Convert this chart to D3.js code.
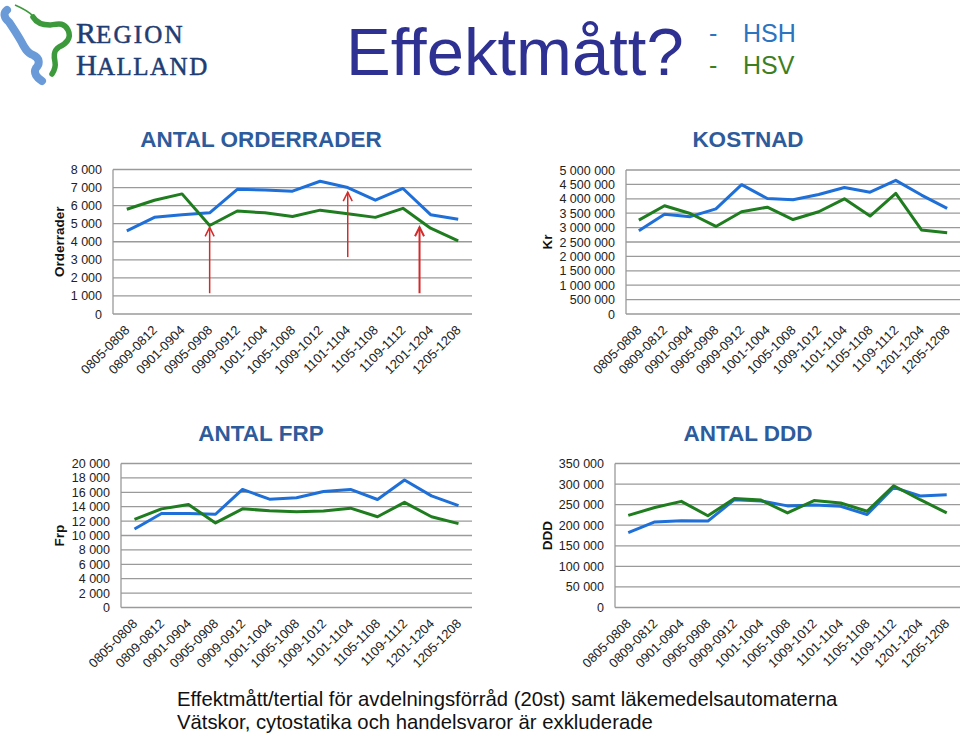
<!DOCTYPE html>
<html><head><meta charset="utf-8">
<script src="https://cdn.jsdelivr.net/npm/d3@7"></script>
<style>
body{margin:0;background:#fff;}
svg{display:block;font-family:Arial,"Liberation Sans",sans-serif;}
</style></head>
<body><svg id="c" width="960" height="734"></svg>
<script>
const categories = ["0805-0808","0809-0812","0901-0904","0905-0908","0909-0912","1001-1004","1005-1008","1009-1012","1101-1104","1105-1108","1109-1112","1201-1204","1205-1208"];
const seriesNames = ["HSH","HSV"];

const orderHSH = [4600,5350,5500,5600,6900,6870,6800,7350,7000,6300,6950,5500,5250];
const orderHSV = [5800,6300,6650,4900,5700,5600,5400,5750,5550,5350,5850,4750,4050];
const orderTicks = [0,1000,2000,3000,4000,5000,6000,7000,8000];

const kostHSH = [2890000,3460000,3380000,3650000,4490000,4010000,3970000,4150000,4390000,4230000,4640000,4130000,3670000];
const kostHSV = [3260000,3760000,3490000,3040000,3550000,3710000,3280000,3550000,4000000,3400000,4190000,2920000,2820000];
const kostTicks = [0,500000,1000000,1500000,2000000,2500000,3000000,3500000,4000000,4500000,5000000];

const frpHSH = [10900,13050,13050,12950,16400,15050,15250,16100,16400,15000,17700,15500,14150];
const frpHSV = [12250,13700,14300,11750,13700,13450,13300,13400,13800,12600,14600,12600,11650];
const frpTicks = [0,2000,4000,6000,8000,10000,12000,14000,16000,18000,20000];

const dddHSH = [182000,208000,211000,210000,262000,259000,247000,249000,246000,226000,292000,271000,274000];
const dddHSV = [224000,243000,258000,223000,265000,261000,230000,260000,254000,234000,296000,262000,230000];
const dddTicks = [0,50000,100000,150000,200000,250000,300000,350000];

// arrows on the order chart: category position (index), from value, to value
const arrowPos = [3, 8, 10.6];
const arrowFrom = [1150, 3150, 1150];
const arrowTo = [4800, 6750, 4800];

const svg = d3.select("#c");
const BLUE = "#1f6fd8", GREEN = "#1f7d1f", GRID = "#9a9a9a";
const fmt = v => d3.format(",")(v).replace(/,/g, " ");

function chart(cfg){
  const {x0,x1,yTop,yBot,max,ticks,s1,s2,title,titleX,titleY,ylab,ylabX} = cfg;
  const g = svg.append("g");
  const x = d3.scalePoint().domain(categories).range([x0,x1]).padding(0.5);
  const y = d3.scaleLinear().domain([0,max]).range([yBot,yTop]);
  g.selectAll(".grid").data(ticks).enter().append("line")
    .attr("x1",x0).attr("x2",x1).attr("y1",d=>y(d)).attr("y2",d=>y(d))
    .attr("stroke",GRID).attr("stroke-width",1.3);
  g.append("line").attr("x1",x0).attr("x2",x0).attr("y1",yTop).attr("y2",yBot)
    .attr("stroke",GRID).attr("stroke-width",1.3);
  const yAxis = d3.axisLeft(y).tickValues(ticks).tickFormat(fmt).tickSize(0).tickPadding(11);
  const ya = g.append("g").attr("transform",`translate(${x0},0)`).call(yAxis);
  ya.select(".domain").remove();
  ya.selectAll("text").attr("font-size","12.5px").attr("fill","#222").attr("font-family","Arial,'Liberation Sans',sans-serif");
  const xAxis = d3.axisBottom(x).tickSize(0).tickPadding(0);
  const xa = g.append("g").attr("transform",`translate(0,${yBot})`).call(xAxis);
  xa.select(".domain").remove();
  xa.selectAll("text").attr("font-size","13px").attr("fill","#222")
    .attr("font-family","Arial,'Liberation Sans',sans-serif")
    .attr("text-anchor","end").attr("dy",null)
    .attr("transform","translate(3,17) rotate(-45)");
  const line = d3.line().x((d,i)=>x(categories[i])).y(d=>y(d));
  g.append("path").datum(s1).attr("d",line).attr("fill","none").attr("stroke",BLUE).attr("stroke-width",3).attr("stroke-linejoin","round");
  g.append("path").datum(s2).attr("d",line).attr("fill","none").attr("stroke",GREEN).attr("stroke-width",3).attr("stroke-linejoin","round");
  svg.append("text").attr("x",titleX).attr("y",titleY).attr("text-anchor","middle")
    .attr("font-size","22.5px").attr("font-weight","bold").attr("fill","#2d5b9b").text(title);
  svg.append("text").attr("transform",`translate(${ylabX},${(yTop+yBot)/2}) rotate(-90)`)
    .attr("text-anchor","middle").attr("font-size","13.5px").attr("font-weight","bold").attr("fill","#111").text(ylab);
  return {x,y,g};
}

const c1 = chart({x0:113,x1:472,yTop:169.5,yBot:314,max:8000,ticks:orderTicks,s1:orderHSH,s2:orderHSV,title:"ANTAL ORDERRADER",titleX:261,titleY:147,ylab:"Orderrader",ylabX:64});
chart({x0:626,x1:960,yTop:170,yBot:314,max:5000000,ticks:kostTicks,s1:kostHSH,s2:kostHSV,title:"KOSTNAD",titleX:748,titleY:147,ylab:"Kr",ylabX:552});
chart({x0:121,x1:472,yTop:463.5,yBot:607.5,max:20000,ticks:frpTicks,s1:frpHSH,s2:frpHSV,title:"ANTAL FRP",titleX:261,titleY:441,ylab:"Frp",ylabX:64});
chart({x0:615,x1:960,yTop:463.5,yBot:607.5,max:350000,ticks:dddTicks,s1:dddHSH,s2:dddHSV,title:"ANTAL DDD",titleX:748,titleY:441,ylab:"DDD",ylabX:552});

const step = c1.x.step();
arrowPos.forEach((p,i)=>{
  const ax = c1.x(categories[0]) + p*step;
  const yf = c1.y(arrowFrom[i]), yt = c1.y(arrowTo[i]);
  const ag = svg.append("g").attr("stroke","#d42a2a").attr("fill","none").attr("stroke-width", i===2?2:1.5);
  ag.append("line").attr("x1",ax).attr("x2",ax).attr("y1",yf).attr("y2",yt);
  ag.append("path").attr("d",`M${ax-4.5},${yt+9}L${ax},${yt}L${ax+4.5},${yt+9}`);
});

// header
svg.append("text").attr("x",346).attr("y",75).attr("font-size","67px").attr("fill","#2e3192").text("Effektmått?");
svg.append("text").attr("x",709).attr("y",42).attr("font-size","25px").attr("fill","#2a74c0").text("-");
svg.append("text").attr("x",743).attr("y",42).attr("font-size","25px").attr("fill","#2a74c0").text(seriesNames[0]);
svg.append("text").attr("x",709).attr("y",74).attr("font-size","25px").attr("fill","#3d7f1f").text("-");
svg.append("text").attr("x",743).attr("y",74).attr("font-size","25px").attr("fill","#3d7f1f").text(seriesNames[1]);

// logo
const lg = svg.append("g");
lg.append("path").attr("d","M7,10 C3,13 4,18 9,22 C13,28 17,34 21,41 C24,47 27,53 33,55 C40,58 40,64 36,68 C33,73 37,78 42,81")
  .attr("fill","none").attr("stroke","#6a9bd8").attr("stroke-width",8).attr("stroke-linecap","round").attr("stroke-linejoin","round");
lg.append("path").attr("d","M33,17 C36,22 42,25 50,25 C58,24 64,22 68,30 C72,38 66,44 59,47 C53,51 54,57 55,62 C56,67 54,71 52,74")
  .attr("fill","none").attr("stroke","#3c9a3c").attr("stroke-width",5.5).attr("stroke-linecap","round").attr("stroke-linejoin","round");
lg.append("path").attr("d","M15,5 C22,8 28,11 33,16").attr("fill","none").attr("stroke","#3c9a3c").attr("stroke-width",1.5);
const serif = "'Liberation Serif','DejaVu Serif',serif";
const lt1 = lg.append("text").attr("x",76).attr("y",42.5).attr("font-family",serif).attr("fill","#1f3d73").attr("stroke","#1f3d73").attr("stroke-width",0.5);
lt1.append("tspan").attr("font-size","30px").text("R");
lt1.append("tspan").attr("font-size","25px").attr("letter-spacing","2.2").text("EGION");
const lt2 = lg.append("text").attr("x",76).attr("y",75).attr("font-family",serif).attr("fill","#1f3d73").attr("stroke","#1f3d73").attr("stroke-width",0.5);
lt2.append("tspan").attr("font-size","29px").text("H");
lt2.append("tspan").attr("font-size","25px").attr("letter-spacing","1.5").text("ALLAND");

// footer
svg.append("text").attr("x",177).attr("y",706).attr("font-size","20.3px").attr("fill","#111").text("Effektmått/tertial för avdelningsförråd (20st) samt läkemedelsautomaterna");
svg.append("text").attr("x",177).attr("y",729).attr("font-size","20.3px").attr("fill","#111").text("Vätskor, cytostatika och handelsvaror är exkluderade");
</script></body></html>
